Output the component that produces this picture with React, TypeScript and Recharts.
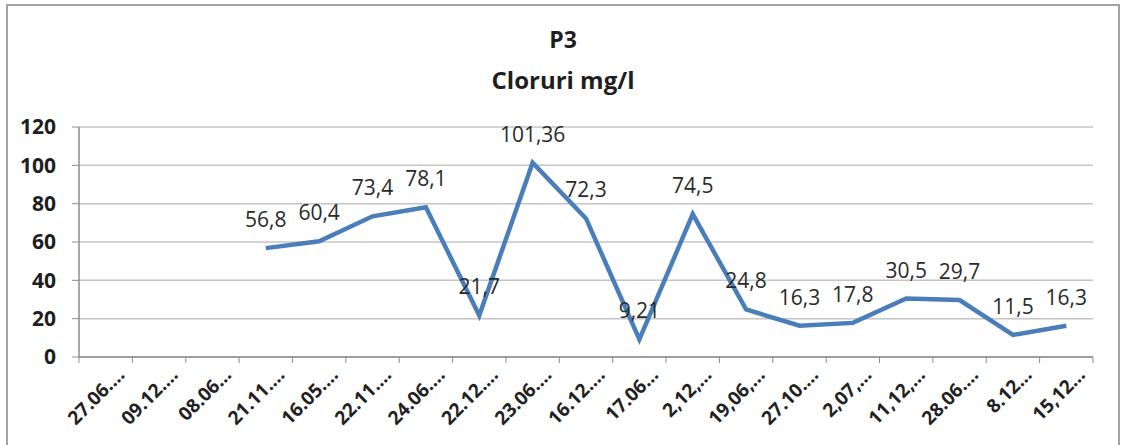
import { LineChart, Line, XAxis, YAxis, CartesianGrid, LabelList } from "recharts";

// sampling dates (as shown, truncated like the original sheet)
const dates = [
  "27.06.…", "09.12.…", "08.06…", "21.11.…", "16.05.…", "22.11.…", "24.06.…",
  "22.12.…", "23.06.…", "16.12.…", "17.06…", "2,12,…", "19,06,…", "27.10.…",
  "2,07,…", "11,12,…", "28.06.…", "8.12…", "15,12…",
];

// chlorides mg/l, first three samples have no value
const cloruri: (number | null)[] = [
  null, null, null, 56.8, 60.4, 73.4, 78.1, 21.7, 101.36, 72.3, 9.21, 74.5,
  24.8, 16.3, 17.8, 30.5, 29.7, 11.5, 16.3,
];

const yTicks = [0, 20, 40, 60, 80, 100, 120];

const data = dates.map((d, i) => ({ date: d, value: cloruri[i] }));

const W = 1123;
const H = 445;
const PLOT_LEFT = 79;
const PLOT_RIGHT = 1093;
const BAND = (PLOT_RIGHT - PLOT_LEFT) / dates.length;
const FONT = "'Open Sans', sans-serif";
const AXIS = "#8c8c8c";

function XTick(props: any) {
  const { x, y, payload, index } = props;
  return (
    <g>
      <line x1={x - BAND / 2} x2={x - BAND / 2} y1={y} y2={y + 6} stroke={AXIS} />
      {index === dates.length - 1 && (
        <line x1={x + BAND / 2} x2={x + BAND / 2} y1={y} y2={y + 6} stroke={AXIS} />
      )}
      <g transform={`translate(${x + 20},${y + 19})`}>
        <text
          textAnchor="end"
          transform="rotate(-45)"
          fontFamily={FONT}
          fontSize={19}
          fontWeight={700}
          fill="#222"
        >
          {payload.value}
        </text>
      </g>
    </g>
  );
}

const fmt = (v: any) => (v == null ? "" : String(v).replace(".", ","));

export default function App() {
  return (
    <div style={{ position: "absolute", left: 0, top: 0, width: W, height: H, background: "#fff", overflow: "hidden" }}>
      <div
        style={{
          position: "absolute",
          left: 6,
          top: 4,
          width: 1110,
          height: 460,
          border: "2px solid #a3a3a3",
        }}
      />
      <svg style={{ position: "absolute", left: 0, top: 0 }} width={W} height={120}>
        <text x={563} y={48} textAnchor="middle" fontFamily={FONT} fontWeight={700} fontSize={23} fill="#1e1e1e">
          P3
        </text>
        <text x={563} y={89} textAnchor="middle" fontFamily={FONT} fontWeight={700} fontSize={24} fill="#1e1e1e">
          Cloruri mg/l
        </text>
      </svg>
      <div style={{ position: "absolute", left: 0, top: 0 }}>
        <LineChart
          width={W}
          height={H}
          data={data}
          margin={{ top: 127, right: W - PLOT_RIGHT, bottom: 0, left: 0 }}
        >
          <CartesianGrid vertical={false} stroke="#c4c4c4" strokeWidth={1.5} />
          <XAxis
            dataKey="date"
            scale="band"
            interval={0}
            height={88}
            tickLine={false}
            tickSize={0}
            tickMargin={0}
            axisLine={{ stroke: AXIS, strokeWidth: 1.5 }}
            tick={<XTick />}
          />
          <YAxis
            width={PLOT_LEFT}
            domain={[0, 120]}
            ticks={yTicks}
            interval={0}
            tickSize={7}
            tickMargin={16}
            axisLine={{ stroke: AXIS, strokeWidth: 1.5 }}
            tickLine={{ stroke: AXIS }}
            tick={{ fontFamily: FONT, fontSize: 21, fontWeight: 700, fill: "#1e1e1e" }}
          />
          <Line
            type="linear"
            dataKey="value"
            stroke="#4a7ebb"
            strokeWidth={4.5}
            dot={false}
            activeDot={false}
            connectNulls={false}
            isAnimationActive={false}
          >
            <LabelList
              dataKey="value"
              position="top"
              offset={21}
              formatter={fmt}
              style={{ fontFamily: FONT, fontSize: 21, fill: "#2a2a2a" }}
            />
          </Line>
        </LineChart>
      </div>
    </div>
  );
}
